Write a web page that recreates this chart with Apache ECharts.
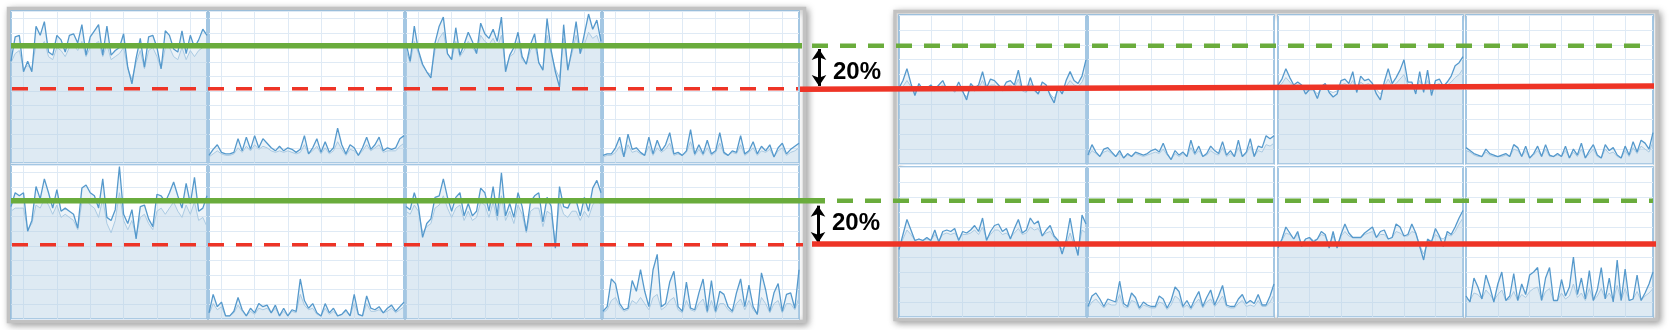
<!DOCTYPE html>
<html>
<head>
<meta charset="utf-8">
<script src="https://cdn.jsdelivr.net/npm/echarts@6/dist/echarts.min.js"></script>
<style>
html,body{margin:0;padding:0;background:#fff;}
#c{width:1669px;height:330px;}
</style>
</head>
<body>
<div id="c"></div>
<script>
// ---------------- DATA ----------------
// sample positions along each small chart
const sampleIndex = Array.from({length: 48}, (_, i) => String(i));

// Left panel, row 1
const l1c1Dark  = [67,83,84,60,67,60,90,84,93,73, 71,84,81,73,84,85,79,91,71,83, 87,91,71,90,71,74,76,85,63,52, 69,82,63,83,84,76,62,87,84,75, 73,87,72,84,76,81,88,84];
const l1c1Light = [66,72,74,62,64,62,78,76,80,70, 68,76,74,70,76,78,74,80,70,76, 78,80,70,78,68,70,72,76,62,55, 66,74,62,74,76,70,62,76,76,70, 68,76,68,74,70,74,76,76];
const l1c2Dark  = [5,9,12,7,6,6,7,16,8,17, 9,18,10,16,13,10,8,11,8,10, 9,7,9,18,6,10,16,7,14,7, 10,23,12,6,12,10,5,10,17,9, 12,17,8,10,9,10,16,18];
const l1c2Light = [4,6,8,6,5,5,6,10,7,11, 8,12,9,11,10,8,7,8,7,8, 7,6,7,12,6,8,11,6,10,6, 8,14,9,5,9,8,5,8,12,8, 10,12,7,8,8,8,11,13];
const l1c3Dark  = [79,67,90,74,65,60,56,79,90,96, 72,68,89,71,78,86,80,72,92,85, 82,88,80,96,60,71,76,86,70,65, 78,85,66,61,95,74,60,50,91,61, 75,93,72,85,98,88,94,80];
const l1c3Light = [74,66,80,72,64,60,58,74,82,86, 72,68,80,70,74,80,76,72,84,80, 78,82,76,84,62,70,72,80,68,65, 74,78,66,62,84,72,62,56,82,62, 72,84,72,78,86,82,84,76];
const l1c4Dark  = [5,6,6,10,17,4,19,9,10,7, 5,17,6,15,8,12,20,6,7,5, 8,22,6,12,6,15,6,8,20,7, 5,8,7,18,6,8,14,6,11,8, 12,4,10,13,6,9,11,13];
const l1c4Light = [4,5,5,7,11,4,12,7,8,6, 5,11,5,10,7,9,13,5,6,5, 7,14,5,9,5,10,5,7,13,6, 5,7,6,12,5,7,10,5,8,7, 9,4,8,10,5,7,8,10];
// Left panel, row 2
const l2c1Dark  = [73,82,80,82,57,64,86,78,91,82, 72,84,70,72,70,68,59,85,87,82, 80,72,91,66,64,71,99,68,62,71, 52,73,74,65,60,81,80,76,82,89, 80,72,88,75,92,70,72,80];
const l2c1Light = [70,72,72,72,58,62,74,72,78,74, 68,74,66,68,66,64,58,76,78,74, 72,66,78,62,56,64,82,64,58,64, 54,66,68,62,58,70,72,68,72,76, 70,66,74,68,76,64,66,60];
const l2c2Dark  = [4,16,8,11,2,2,5,14,6,2, 7,4,10,8,9,4,9,2,7,2, 6,5,26,12,7,10,4,2,10,4, 7,2,3,6,2,16,3,2,15,7, 6,8,4,7,9,5,8,11];
const l2c2Light = [3,10,6,8,2,2,4,9,5,2, 5,3,7,6,7,4,7,2,5,2, 5,4,16,9,6,7,3,2,7,3, 5,2,3,5,2,10,3,2,10,5, 5,6,4,5,7,4,6,8];
const l2c3Dark  = [73,71,82,73,53,62,65,79,80,91, 79,70,79,82,67,75,67,70,85,82, 70,86,67,95,67,75,66,82,73,57, 76,80,82,63,79,73,46,86,73,72, 78,77,67,79,70,85,90,82];
const l2c3Light = [70,68,74,70,56,60,62,72,74,80, 72,66,72,74,64,70,64,66,76,74, 66,76,64,80,64,70,62,74,68,56, 70,72,72,60,70,68,50,76,68,66, 70,70,64,70,66,74,78,74];
const l2c4Dark  = [5,8,26,23,10,6,7,25,18,32, 18,8,32,42,8,10,24,31,8,5, 24,7,6,17,26,5,25,5,18,16, 8,5,17,26,8,22,8,3,30,19, 5,17,23,5,16,17,7,32];
const l2c4Light = [4,6,12,14,8,5,6,12,10,14, 10,6,14,16,6,8,12,14,6,4, 12,6,5,10,13,4,12,4,10,10, 6,4,10,13,6,12,6,3,14,10, 4,10,12,4,10,10,6,14];
// Right panel, row 1
const r1c1Dark  = [51,56,64,54,46,54,50,51,53,50, 53,56,50,52,49,55,49,43,54,51, 53,62,51,57,56,53,50,55,56,53, 63,50,49,58,50,47,55,53,46,41, 52,47,56,62,56,54,59,70];
const r1c1Light = [50,52,56,52,48,52,50,50,51,49, 51,53,49,51,48,52,48,45,51,49, 51,56,50,53,53,51,49,52,53,51, 57,49,48,54,49,47,52,51,47,44, 50,47,52,56,53,52,55,62];
const r1c2Dark  = [6,13,8,5,10,11,8,5,9,4, 7,5,8,7,6,7,9,10,8,14, 7,3,9,6,8,5,16,7,12,5, 7,12,9,7,15,6,9,5,16,5, 8,17,5,12,11,19,17,19];
const r1c2Light = [5,9,7,5,8,9,7,5,7,4, 6,5,7,6,5,6,7,8,7,10, 6,3,7,5,7,5,11,6,9,5, 6,9,7,6,11,5,7,5,11,5, 7,12,5,9,8,13,12,14];
const r1c3Dark  = [53,57,64,58,53,55,53,47,50,50, 44,52,54,48,45,47,56,57,54,62, 48,59,56,57,54,47,43,55,64,54, 58,63,70,55,55,47,62,48,63,46, 56,57,52,55,59,66,68,72];
const r1c3Light = [52,54,58,55,52,53,52,49,50,50, 47,51,52,49,48,49,53,54,52,56, 50,55,53,54,52,50,47,52,57,52, 54,57,60,53,52,50,56,50,56,49, 53,54,51,53,55,58,60,64];
const r1c4Dark  = [11,9,7,6,5,10,7,6,5,6, 7,5,13,11,5,12,4,7,12,5, 13,6,5,7,5,12,4,10,6,14, 4,9,13,6,4,13,9,11,6,4, 12,6,15,8,16,14,10,21];
const r1c4Light = [9,8,6,5,5,8,6,5,5,5, 6,5,10,9,5,9,4,6,9,5, 10,5,5,6,5,9,4,8,5,10, 4,7,10,5,4,10,7,8,5,4, 9,5,11,7,12,10,8,15];
// Right panel, row 2
const r2c1Dark  = [45,55,65,58,51,52,51,53,51,58, 50,57,58,57,59,51,57,56,58,61, 57,66,51,57,61,62,57,59,52,59, 65,56,58,66,62,64,54,58,61,54, 51,42,51,66,51,41,68,62];
const r2c1Light = [46,52,58,55,51,52,51,52,51,55, 51,55,56,55,56,52,55,55,56,58, 55,60,52,55,58,58,55,56,53,56, 59,55,56,60,58,59,54,56,57,53, 49,45,48,56,48,44,58,56];
const r2c2Dark  = [7,14,16,12,7,12,11,10,24,9, 7,16,13,6,10,8,7,7,14,12, 6,11,20,17,7,11,6,12,17,7, 13,18,8,14,21,8,7,7,12,15, 9,11,9,15,8,8,14,22];
const r2c2Light = [6,10,12,9,6,9,8,8,15,7, 6,11,10,5,8,7,6,6,10,9, 5,8,14,12,6,8,5,9,12,6, 10,12,7,10,14,7,6,6,9,11, 7,8,7,11,7,7,10,15];
const r2c3Dark  = [46,52,60,56,52,57,47,52,53,50, 52,57,55,46,57,46,55,62,56,53, 53,53,56,58,60,53,57,58,52,53, 62,60,54,55,62,56,47,38,52,50, 59,54,47,57,55,60,66,71];
const r2c3Light = [48,51,56,55,52,55,49,52,53,51, 52,55,54,48,54,48,54,57,54,53, 53,53,55,56,57,53,55,55,52,53, 57,56,54,54,57,56,48,42,50,51, 55,53,52,55,54,57,62,66];
const r2c4Dark  = [14,10,26,20,12,28,20,10,22,30, 11,14,29,11,22,15,28,30,33,11, 26,33,11,11,25,14,20,40,15,26, 12,31,11,18,33,12,26,10,38,11, 32,11,12,28,11,16,22,30];
const r2c4Light = [12,11,16,15,12,18,15,11,15,18, 11,12,17,11,15,13,17,19,20,11, 17,19,11,11,16,12,14,22,13,16, 11,19,11,14,19,12,16,11,21,11, 19,11,12,17,11,14,16,19];

// Threshold levels (same 0-100 scale as left-panel cells), per row
const greenLevel    = [77.2, 76.8];
const redLevel      = [48.9, 48.2];
const redRightStart = [48.5, 48.7];
const redRightEnd   = [50.7, 48.7];
const arrowTop      = [75.0, 73.6];
const arrowBottom   = [50.7, 49.4];
const gapLabels     = ['20%', '20%'];

// ---------------- LAYOUT ----------------
const PANELS = {
  left:  {x:[11,209,406,603], w:[196,195,195,196], y:[11,165], h:[152,154], yInterval:9.5,
          vSplit: function(i){ return i % 8 === 3; }},
  right: {x:[899,1088,1278,1466], w:[187,186,185,187], y:[15,167], h:[149,150], yInterval:10,
          vSplit: function(i){ return i > 0 && i % 8 === 0; }}
};
const OVER = { // horizontal extents of threshold lines (px), per row
  greenSolid: [[11, 802], [11, 825]],
  greenDash:  [[812, 1641], [837, 1653]],
  redDash:    [[12, 798], [12, 803]],
  redSolid:   [[800, 1654], [812, 1656]],
  arrowX:     [819, 818],
  textPos:    [[833, 72], [832, 223]]
};
const cells = [
  ['left',0,0,l1c1Dark,l1c1Light],['left',0,1,l1c2Dark,l1c2Light],['left',0,2,l1c3Dark,l1c3Light],['left',0,3,l1c4Dark,l1c4Light],
  ['left',1,0,l2c1Dark,l2c1Light],['left',1,1,l2c2Dark,l2c2Light],['left',1,2,l2c3Dark,l2c3Light],['left',1,3,l2c4Dark,l2c4Light],
  ['right',0,0,r1c1Dark,r1c1Light],['right',0,1,r1c2Dark,r1c2Light],['right',0,2,r1c3Dark,r1c3Light],['right',0,3,r1c4Dark,r1c4Light],
  ['right',1,0,r2c1Dark,r2c1Light],['right',1,1,r2c2Dark,r2c2Light],['right',1,2,r2c3Dark,r2c3Light],['right',1,3,r2c4Dark,r2c4Light]
];

const GRID_LINE = '#dfeaf5';
const CELL_BORDER = '#86b5da';
const DARK_LINE = '#5599cc';
const LIGHT_LINE = '#a8c9e3';
const AREA = 'rgba(180,206,227,0.36)';
const GREEN = '#6aac3c';
const RED = '#ee3426';

const grids = [], xAxes = [], yAxes = [], series = [];
cells.forEach(function(c, k){
  const P = PANELS[c[0]], r = c[1], col = c[2];
  grids.push({left:P.x[col], top:P.y[r], width:P.w[col], height:P.h[r], show:true,
    backgroundColor:'#fff', borderColor:CELL_BORDER, borderWidth:1.5, containLabel:false});
  xAxes.push({gridIndex:k, type:'category', data:sampleIndex, boundaryGap:false,
    axisLine:{show:false}, axisTick:{show:false}, axisLabel:{show:false},
    splitLine:{show:true, interval:function(i){ return P.vSplit(i); }, lineStyle:{color:GRID_LINE, width:1}}});
  yAxes.push({gridIndex:k, type:'value', min:0, max:100, interval:P.yInterval,
    axisLine:{show:false}, axisTick:{show:false}, axisLabel:{show:false},
    splitLine:{show:true, lineStyle:{color:GRID_LINE, width:1}}});
  series.push({type:'line', xAxisIndex:k, yAxisIndex:k, data:c[4], showSymbol:false, silent:true,
    lineStyle:{color:LIGHT_LINE, width:1}, areaStyle:{color:AREA}, z:2});
  series.push({type:'line', xAxisIndex:k, yAxisIndex:k, data:c[3], showSymbol:false, silent:true,
    lineStyle:{color:DARK_LINE, width:1.3}, areaStyle:{color:AREA}, z:3});
});

// overlay grids for the threshold lines (one per row, left-panel value scale)
[0,1].forEach(function(r){
  const gi = grids.length;
  grids.push({left:0, width:1669, top:PANELS.left.y[r], height:PANELS.left.h[r], show:false});
  xAxes.push({gridIndex:gi, type:'value', min:0, max:1669, show:false});
  yAxes.push({gridIndex:gi, type:'value', min:0, max:100, show:false});
  const base = {type:'line', xAxisIndex:gi, yAxisIndex:gi, showSymbol:false, silent:true, z:10};
  series.push(Object.assign({}, base, {
    data:[[OVER.greenSolid[r][0], greenLevel[r]], [OVER.greenSolid[r][1], greenLevel[r]]],
    lineStyle:{color:GREEN, width:5.5, cap:'butt'}}));
  series.push(Object.assign({}, base, {
    data:[[OVER.greenDash[r][0], greenLevel[r]], [OVER.greenDash[r][1], greenLevel[r]]],
    lineStyle:{color:GREEN, width:4.5, type:[16,12], cap:'butt'}}));
  series.push(Object.assign({}, base, {
    data:[[OVER.redDash[r][0], redLevel[r]], [OVER.redDash[r][1], redLevel[r]]],
    lineStyle:{color:RED, width:3.5, type:[16,12], cap:'butt'}}));
  series.push(Object.assign({}, base, {
    data:[[OVER.redSolid[r][0], redRightStart[r]], [OVER.redSolid[r][1], redRightEnd[r]]],
    lineStyle:{color:RED, width:5.5, cap:'butt'},
    markLine:{silent:true, animation:false, symbol:['arrow','arrow'], symbolSize:[11,11],
      label:{show:false}, emphasis:{disabled:true},
      lineStyle:{color:'#000', width:3, type:'solid'},
      data:[[{coord:[OVER.arrowX[r], arrowTop[r]]}, {coord:[OVER.arrowX[r], arrowBottom[r]]}]]}}));
});

const graphics = [
  {type:'rect', z:-10, shape:{x:8.5, y:8.5, width:796, height:313},
   style:{fill:'#fff', stroke:'#c2c2c2', lineWidth:3.5, shadowBlur:7, shadowColor:'rgba(0,0,0,0.35)', shadowOffsetX:2, shadowOffsetY:2}},
  {type:'rect', z:-10, shape:{x:895, y:11.5, width:762, height:308},
   style:{fill:'#fff', stroke:'#c2c2c2', lineWidth:3.5, shadowBlur:7, shadowColor:'rgba(0,0,0,0.35)', shadowOffsetX:2, shadowOffsetY:2}}
];
[0,1].forEach(function(r){
  graphics.push({type:'text', z:100, style:{x:OVER.textPos[r][0], y:OVER.textPos[r][1], text:gapLabels[r],
    font:'bold 24px "Liberation Sans", Arial, sans-serif', fill:'#000', textAlign:'left', textVerticalAlign:'middle', verticalAlign:'middle'}});
});

const chart = echarts.init(document.getElementById('c'), null, {renderer:'canvas', width:1669, height:330});
chart.setOption({
  animation:false,
  backgroundColor:'#fff',
  grid:grids, xAxis:xAxes, yAxis:yAxes, series:series, graphic:graphics
});
</script>
</body>
</html>
